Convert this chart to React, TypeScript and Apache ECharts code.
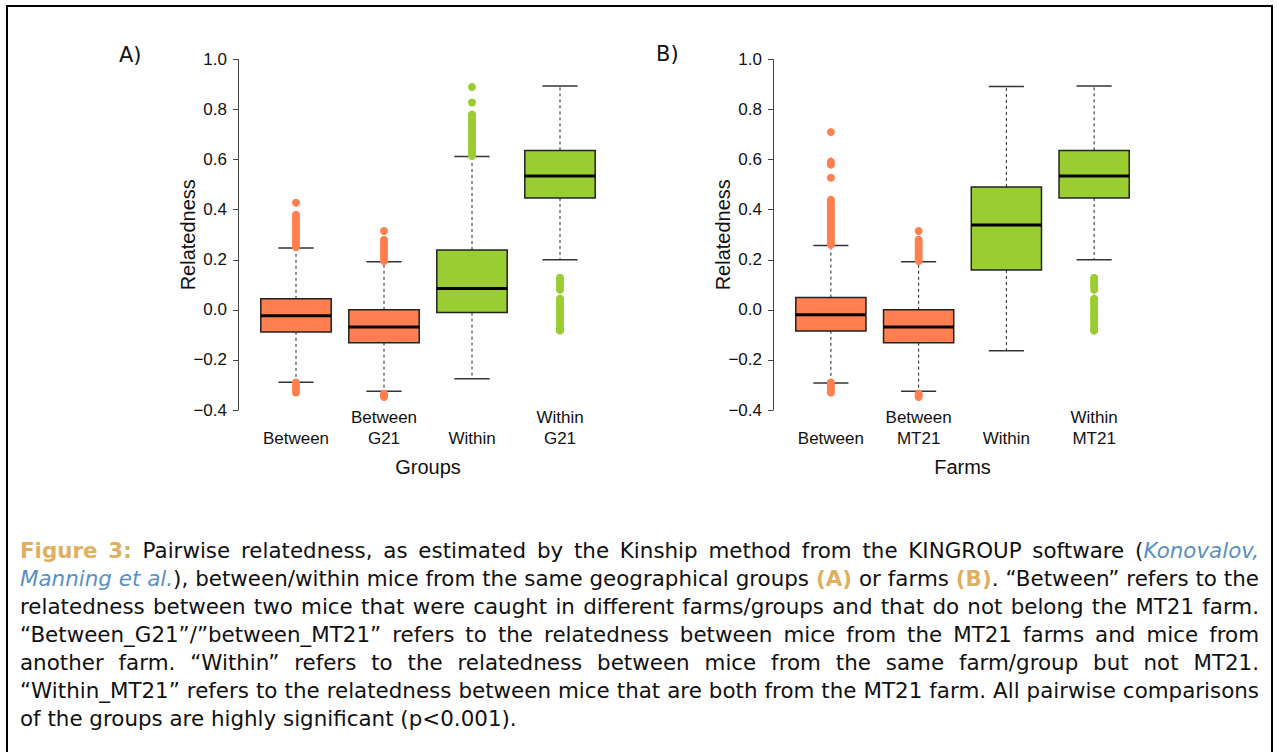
import React, { useEffect, useRef } from "react";
import * as echarts from "echarts";

// ---------------- data ----------------
const categoriesA = ["Between", "Between\nG21", "Within", "Within\nG21"];
const categoriesB = ["Between", "Between\nMT21", "Within", "Within\nMT21"];
const boxColors = ["#FF7F50", "#FF7F50", "#9ACD32", "#9ACD32"];
const yTicks = [-0.4, -0.2, 0.0, 0.2, 0.4, 0.6, 0.8, 1.0];

// [lower whisker, Q1, median, Q3, upper whisker]
const boxesA = [
  [-0.289, -0.088, -0.024, 0.044, 0.247],
  [-0.325, -0.131, -0.068, 0.0, 0.192],
  [-0.275, -0.011, 0.085, 0.239, 0.613],
  [0.2, 0.447, 0.535, 0.637, 0.894],
];
const boxesB = [
  [-0.292, -0.084, -0.02, 0.049, 0.257],
  [-0.325, -0.131, -0.068, 0.0, 0.192],
  [-0.163, 0.159, 0.339, 0.491, 0.892],
  [0.2, 0.447, 0.535, 0.637, 0.894],
];

const outliersBetweenA = [0.25, 0.26, 0.27, 0.28, 0.29, 0.3, 0.31, 0.32, 0.33, 0.34, 0.35, 0.36, 0.37, 0.38, 0.428,
  -0.29, -0.3, -0.31, -0.32, -0.33];
const outliersBetween21 = [0.195, 0.205, 0.215, 0.225, 0.235, 0.245, 0.255, 0.265, 0.275, 0.28, 0.315,
  -0.335, -0.342, -0.348];
const outliersWithinA = [0.615, 0.62, 0.63, 0.64, 0.65, 0.66, 0.67, 0.68, 0.69, 0.7, 0.71, 0.72, 0.73, 0.74, 0.75,
  0.76, 0.77, 0.78, 0.828, 0.89];
const outliersWithin21 = [0.128, 0.12, 0.11, 0.1, 0.09, 0.08, 0.045, 0.04, 0.03, 0.02, 0.01, 0.0, -0.01, -0.02,
  -0.03, -0.04, -0.05, -0.06, -0.07, -0.08, -0.083];
const outliersBetweenB = [0.26, 0.27, 0.28, 0.29, 0.3, 0.31, 0.32, 0.33, 0.34, 0.35, 0.36, 0.37, 0.38, 0.39, 0.4,
  0.41, 0.42, 0.43, 0.44, 0.528, 0.58, 0.592, 0.71, -0.29, -0.3, -0.31, -0.32, -0.33];
const outliersWithinB: number[] = [];

const outliersA = [outliersBetweenA, outliersBetween21, outliersWithinA, outliersWithin21];
const outliersB = [outliersBetweenB, outliersBetween21, outliersWithinB, outliersWithin21];

// caption: runs of [text, style]
const captionLines: [string, string][][] = [
  [["Figure 3:", "fig"], [" Pairwise relatedness, as estimated by the Kinship method from the KINGROUP software (", "n"], ["Konovalov,", "ref"]],
  [["Manning et al.", "ref"], ["), between/within mice from the same geographical groups ", "n"], ["(A)", "lab"], [" or farms ", "n"], ["(B)", "lab"], [". \u201cBetween\u201d refers to the", "n"]],
  [["relatedness between two mice that were caught in different farms/groups and that do not belong the MT21 farm.", "n"]],
  [["\u201cBetween_G21\u201d/\u201dbetween_MT21\u201d refers to the relatedness between mice from the MT21 farms and mice from", "n"]],
  [["another farm. \u201cWithin\u201d refers to the relatedness between mice from the same farm/group but not MT21.", "n"]],
  [["\u201cWithin_MT21\u201d refers to the relatedness between mice that are both from the MT21 farm. All pairwise comparisons", "n"]],
  [["of the groups are highly significant (p<0.001).", "n"]],
];

// ---------------- styling ----------------
const axisFont = "'Liberation Sans', Arial, Helvetica, sans-serif";
const capFont = "'DejaVu Sans', 'Noto Sans', sans-serif";
const capStyles: Record<string, { fill: string; weight: string; italic: boolean }> = {
  n: { fill: "#111", weight: "normal", italic: false },
  fig: { fill: "#DDB062", weight: "bold", italic: false },
  lab: { fill: "#DDB062", weight: "bold", italic: false },
  ref: { fill: "#5B8FC4", weight: "normal", italic: true },
};

function buildCaption(): any[] {
  const canvas = document.createElement("canvas");
  const ctx = canvas.getContext("2d")!;
  const fontStr = (st: string, size: number) => {
    const s = capStyles[st];
    return `${s.italic ? "italic " : ""}${s.weight === "bold" ? "bold " : ""}${size}px ${capFont}`;
  };
  const measure = (t: string, st: string, size: number) => {
    ctx.font = fontStr(st, size);
    return ctx.measureText(t).width;
  };
  const toWords = (line: [string, string][]) => {
    const words: [string, string][][] = [[]];
    line.forEach(([text, st]) => {
      const parts = text.split(" ");
      parts.forEach((p, j) => {
        if (j > 0) words.push([]);
        if (p.length) words[words.length - 1].push([p, st]);
      });
    });
    return words.filter((w) => w.length > 0);
  };
  // fit font size so the last (unjustified) line has the reference's natural width
  const lastWords = toWords(captionLines[captionLines.length - 1]);
  const natural = (size: number) =>
    lastWords.reduce((a, w) => a + w.reduce((b, [t, st]) => b + measure(t, st, size), 0), 0) +
    (lastWords.length - 1) * measure(" ", "n", size);
  let size = 20 * (497 / natural(20));
  size = Math.max(16, Math.min(22, size));
  const left = 20;
  const right = 1259;
  const top = 550;
  const step = 28;
  const out: any[] = [];
  captionLines.forEach((line, li) => {
    const words = toWords(line);
    const widths = words.map((w) => w.reduce((b, [t, st]) => b + measure(t, st, size), 0));
    const total = widths.reduce((a, b) => a + b, 0);
    const isLast = li === captionLines.length - 1;
    const gap = isLast ? measure(" ", "n", size) : (right - left - total) / (words.length - 1);
    let x = left;
    const y = top + li * step;
    words.forEach((w, wi) => {
      let xx = x;
      w.forEach(([t, st]) => {
        const s = capStyles[st];
        out.push({
          type: "text",
          x: xx,
          y,
          silent: true,
          style: {
            text: t,
            fill: s.fill,
            fontSize: size,
            fontFamily: capFont,
            fontWeight: s.weight,
            fontStyle: s.italic ? "italic" : "normal",
            align: "left",
            verticalAlign: "middle",
          },
        });
        xx += measure(t, st, size);
      });
      x += widths[wi] + gap;
    });
  });
  return out;
}

function renderBox(params: any, api: any) {
  const i = api.value(0);
  const lo = api.coord([i, api.value(1)]);
  const q1 = api.coord([i, api.value(2)]);
  const med = api.coord([i, api.value(3)]);
  const q3 = api.coord([i, api.value(4)]);
  const hi = api.coord([i, api.value(5)]);
  const band = api.size([1, 0])[0];
  const w = band * 0.8;
  const cx = lo[0];
  const cap = w / 4;
  const dash = { stroke: "#222", lineWidth: 1, lineDash: [3, 3] };
  const capStyle = { stroke: "#333", lineWidth: 1.5 };
  return {
    type: "group",
    children: [
      { type: "line", shape: { x1: cx, y1: q3[1], x2: cx, y2: hi[1] }, style: dash },
      { type: "line", shape: { x1: cx, y1: q1[1], x2: cx, y2: lo[1] }, style: dash },
      { type: "line", shape: { x1: cx - cap, y1: hi[1], x2: cx + cap, y2: hi[1] }, style: capStyle },
      { type: "line", shape: { x1: cx - cap, y1: lo[1], x2: cx + cap, y2: lo[1] }, style: capStyle },
      {
        type: "rect",
        shape: { x: cx - w / 2, y: q3[1], width: w, height: q1[1] - q3[1] },
        style: { fill: boxColors[i], stroke: "#222", lineWidth: 1.5 },
      },
      { type: "line", shape: { x1: cx - w / 2, y1: med[1], x2: cx + w / 2, y2: med[1] }, style: { stroke: "#000", lineWidth: 3 } },
    ],
  };
}

const fmtY = (v: number) => (v < 0 ? "\u2212" : "") + Math.abs(v).toFixed(1);

export default function App() {
  const ref = useRef<HTMLDivElement>(null);
  useEffect(() => {
    const chart = echarts.init(ref.current!, undefined, { renderer: "svg" });
    const panels = [
      { cats: categoriesA, boxes: boxesA, outs: outliersA, name: "Groups", left: 252, width: 352, gapY: 40 },
      { cats: categoriesB, boxes: boxesB, outs: outliersB, name: "Farms", left: 787, width: 351, gapY: 40 },
    ];
    const option: any = {
      animation: false,
      backgroundColor: "#fff",
      grid: panels.map((p) => ({ left: p.left, top: 59.5, width: p.width, height: 350.5 })),
      xAxis: panels.map((p, k) => ({
        gridIndex: k,
        type: "category",
        data: p.cats,
        axisLine: { show: false },
        axisTick: { show: false },
        splitLine: { show: false },
        axisLabel: {
          interval: 0,
          fontSize: 17,
          lineHeight: 21.3,
          color: "#111",
          fontFamily: axisFont,
          verticalAlign: "bottom",
          margin: 39,
        },
        name: p.name,
        nameLocation: "middle",
        nameGap: 47,
        nameMoveOverlap: false,
        nameTextStyle: { fontSize: 20, lineHeight: 20, color: "#111", fontFamily: axisFont },
      })),
      yAxis: panels.map((p, k) => ({
        gridIndex: k,
        type: "value",
        min: yTicks[0],
        max: yTicks[yTicks.length - 1],
        interval: 0.2,
        offset: 14,
        splitLine: { show: false },
        axisLine: { show: true, lineStyle: { color: "#444", width: 1 } },
        axisTick: { show: true, length: 5, lineStyle: { color: "#444", width: 1 } },
        axisLabel: { fontSize: 17, color: "#111", fontFamily: axisFont, margin: 11, formatter: fmtY },
        name: "Relatedness",
        nameLocation: "middle",
        nameGap: p.gapY,
        nameMoveOverlap: false,
        nameTextStyle: { fontSize: 20, lineHeight: 20, color: "#111", fontFamily: axisFont },
      })),
      series: [
        ...panels.map((p, k) => ({
          type: "custom",
          xAxisIndex: k,
          yAxisIndex: k,
          renderItem: renderBox,
          encode: { x: 0, y: [1, 2, 3, 4, 5] },
          data: p.boxes.map((b, i) => [i, ...b]),
          z: 2,
        })),
        ...panels.map((p, k) => ({
          type: "scatter",
          xAxisIndex: k,
          yAxisIndex: k,
          symbol: "circle",
          symbolSize: 8,
          itemStyle: { color: (d: any) => boxColors[d.value[0]], opacity: 1 },
          data: p.outs.flatMap((vals, i) => vals.map((v) => [i, v])),
          z: 3,
        })),
      ],
      graphic: [
        {
          type: "rect",
          shape: { x: 7, y: 6, width: 1265, height: 800 },
          style: { fill: "none", stroke: "#000", lineWidth: 2 },
          silent: true,
        },
        {
          type: "text",
          x: 119,
          y: 55,
          style: { text: "A)", fontSize: 21, fontFamily: capFont, fill: "#111", verticalAlign: "middle" },
        },
        {
          type: "text",
          x: 656,
          y: 54,
          style: { text: "B)", fontSize: 21, fontFamily: capFont, fill: "#111", verticalAlign: "middle" },
        },
        ...buildCaption(),
      ],
    };
    chart.setOption(option);
    return () => chart.dispose();
  }, []);
  return (
    <div
      ref={ref}
      style={{ position: "absolute", left: 0, top: 0, width: 1278, height: 752, background: "#fff" }}
    />
  );
}
